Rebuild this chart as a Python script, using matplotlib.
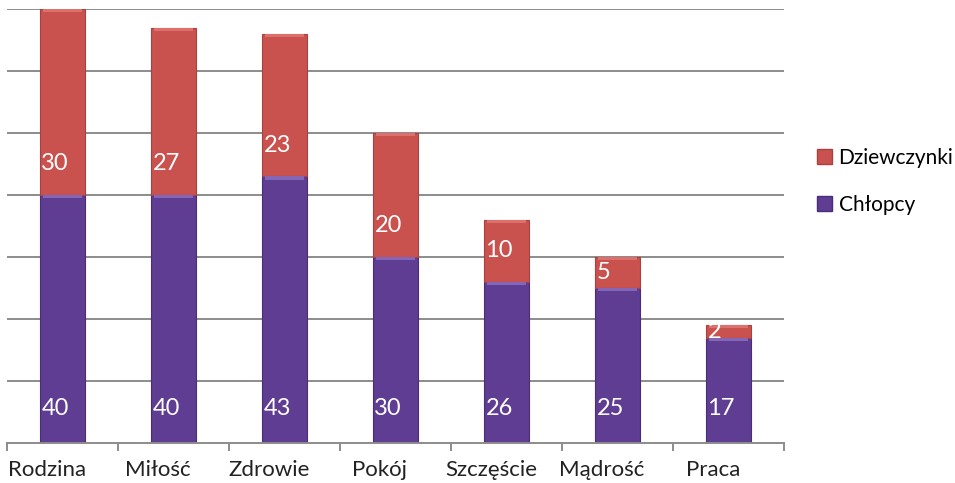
import matplotlib
matplotlib.use("Agg")
import matplotlib.pyplot as plt
from matplotlib.patches import Patch
import numpy as np

plt.rcParams['font.family'] = ['Lato', 'DejaVu Sans']

categories = ['Rodzina', 'Miłość', 'Zdrowie', 'Pokój', 'Szczęście', 'Mądrość', 'Praca']
chlopcy = [40, 40, 43, 30, 26, 25, 17]
dziewczynki = [30, 27, 23, 20, 10, 5, 2]

purple = '#5f3d92'
purple_cap = '#8466b8'
red = '#c9514e'
red_cap = '#dc706d'

x = np.arange(len(categories))
w = 0.4

fig = plt.figure(figsize=(9.55, 4.83), dpi=100)
ax = fig.add_axes([7 / 955, 1 - 443 / 483, 777 / 955, 434 / 483])

ax.set_xlim(-0.5, len(categories) - 0.5)
ax.set_ylim(0, 70)
for g in range(10, 71, 10):
    ax.axhline(g, color='#8c8c8c', lw=1.4, zorder=0)

ax.bar(x, chlopcy, w, color=purple, edgecolor='#4a2d78', lw=0.8, zorder=2)
ax.bar(x, dziewczynki, w, bottom=chlopcy, color=red, edgecolor='#a84240', lw=0.8, zorder=2)
# light bevel on top of each segment
cap = 0.5
ax.bar(x, cap, w * 0.9, bottom=np.array(chlopcy) - cap, color=purple_cap, lw=0, zorder=3)
ax.bar(x, cap, w * 0.9, bottom=np.array(chlopcy) + np.array(dziewczynki) - cap,
       color=red_cap, lw=0, zorder=3)

for i in range(len(categories)):
    ax.text(x[i] - w / 2 + 0.01, min(chlopcy[i] / 2, 5.5), str(chlopcy[i]),
            color='white', fontsize=17, ha='left', va='center', zorder=4)
    ax.text(x[i] - w / 2 + 0.01, chlopcy[i] + min(dziewczynki[i] / 2, 5.0), str(dziewczynki[i]),
            color='white', fontsize=17, ha='left', va='center', zorder=4)

for s in ['left', 'right', 'top']:
    ax.spines[s].set_visible(False)
ax.spines['bottom'].set_color('#8c8c8c')
ax.spines['bottom'].set_linewidth(1.4)
ax.set_yticks([])

ax.set_xticks(x - 0.14)
ax.set_xticklabels(categories, fontsize=16, color='#222222')
ax.tick_params(axis='x', which='major', length=0, pad=12)
ax.set_xticks(np.arange(-0.5, len(categories)), minor=True)
ax.tick_params(axis='x', which='minor', length=6, width=1.4, color='#8c8c8c')

handles = [Patch(facecolor=red, edgecolor='#a84240'), Patch(facecolor=purple, edgecolor='#4a2d78')]
fig.legend(handles, ['Dziewczynki', 'Chłopcy'], loc='upper left',
           bbox_to_anchor=(798 / 955, 1 - 129 / 483), frameon=False, fontsize=15,
           handlelength=0.75, handleheight=0.75, handletextpad=0.3, labelspacing=1.3)

fig.savefig('out.png', dpi=100)
